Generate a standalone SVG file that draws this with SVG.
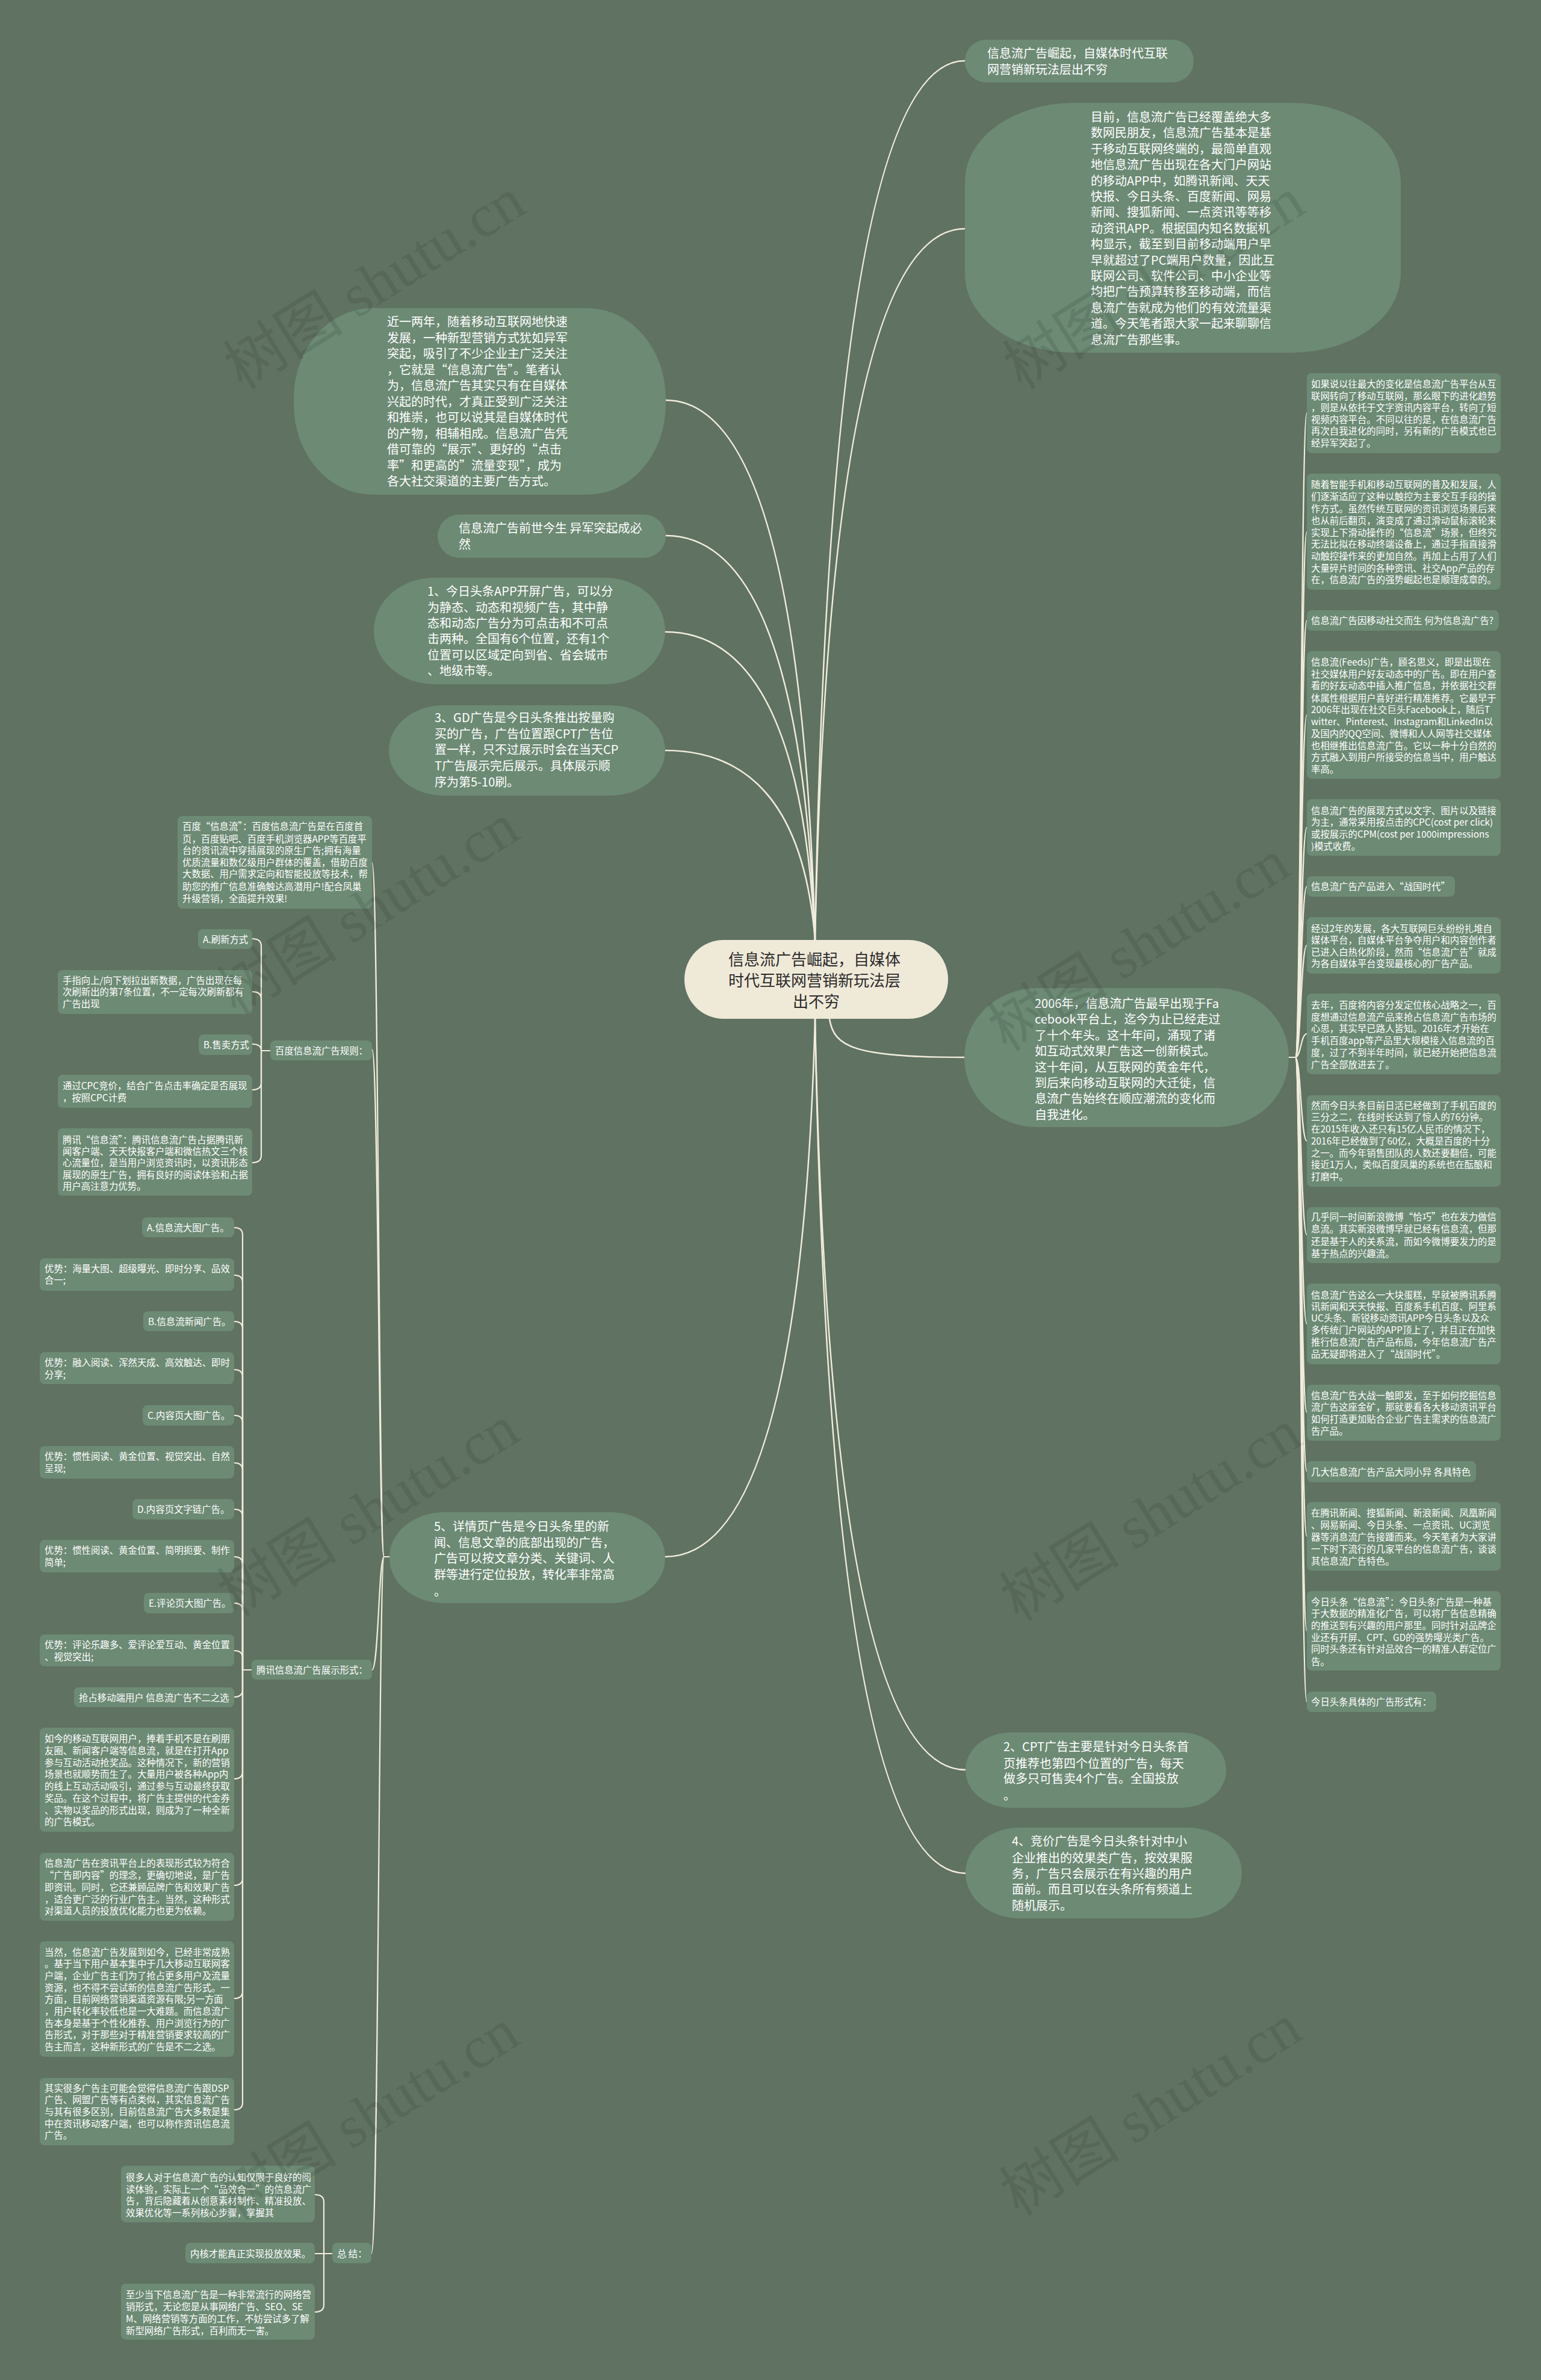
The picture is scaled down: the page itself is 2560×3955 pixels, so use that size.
<svg xmlns="http://www.w3.org/2000/svg" width="2560" height="3955" viewBox="0 0 2560 3955">
<style>
.n{fill:#6c8a74}
.t{fill:#ffffff;font-family:"Noto Sans CJK SC","Noto Sans",sans-serif}
.b{font-size:20px}
.s{font-size:15.4px}
.c{fill:none;stroke:#f1ecdc;stroke-width:2.5;stroke-linecap:round}
.cs{fill:none;stroke:#f1ecdc;stroke-width:2.2;stroke-linecap:round}
.wm{fill:#000;opacity:0.09;font-family:"Liberation Serif","Noto Sans CJK SC",serif;font-size:100px}
</style>
<rect x="0" y="0" width="2560" height="3955" fill="#607262"/>

<g id="connectors">
<!-- center to top -->
<path class="c" d="M1354 1562 Q1379 101 1603 101"/>
<path class="c" d="M1354 1562 Q1379 380 1603 380"/>
<path class="c" d="M1354 1562 Q1329 665 1106 665"/>
<path class="c" d="M1354 1562 Q1329 890 1106 890"/>
<path class="c" d="M1354 1562 Q1329 1050 1105 1050"/>
<path class="c" d="M1354 1562 Q1329 1247 1105 1247"/>
<!-- center to bottom -->
<path class="c" d="M1354 1693 Q1330 2587 1105 2587"/>
<path class="c" d="M1354 1693 Q1379 2941 1604 2941"/>
<path class="c" d="M1354 1693 Q1379 3113 1604 3113"/>
<path class="c" d="M1378 1693 C1385 1740 1420 1757 1602 1757"/>
<!-- 2006 to right column -->
<path class="cs" d="M2141 1757 H2152 C2161 1757 2161 686 2171 686"/>
<path class="cs" d="M2141 1757 H2152 C2161 1757 2161 884 2171 884"/>
<path class="cs" d="M2141 1757 H2152 C2161 1757 2161 1031 2171 1031"/>
<path class="cs" d="M2141 1757 H2152 C2161 1757 2161 1188 2171 1188"/>
<path class="cs" d="M2141 1757 H2152 C2161 1757 2161 1375 2171 1375"/>
<path class="cs" d="M2141 1757 H2152 C2161 1757 2161 1473 2171 1473"/>
<path class="cs" d="M2141 1757 H2152 C2161 1757 2161 1571 2171 1571"/>
<path class="cs" d="M2141 1757 H2152 C2161 1757 2161 1718 2171 1718"/>
<path class="cs" d="M2141 1757 H2152 C2161 1757 2161 1896 2171 1896"/>
<path class="cs" d="M2141 1757 H2152 C2161 1757 2161 2052 2171 2052"/>
<path class="cs" d="M2141 1757 H2152 C2161 1757 2161 2200 2171 2200"/>
<path class="cs" d="M2141 1757 H2152 C2161 1757 2161 2347 2171 2347"/>
<path class="cs" d="M2141 1757 H2152 C2161 1757 2161 2445 2171 2445"/>
<path class="cs" d="M2141 1757 H2152 C2161 1757 2161 2553 2171 2553"/>
<path class="cs" d="M2141 1757 H2152 C2161 1757 2161 2710 2171 2710"/>
<path class="cs" d="M2141 1757 H2152 C2161 1757 2161 2828 2171 2828"/>
<!-- node 5 to left trunk -->
<path class="cs" d="M647 2587 H638 C629 2587 629 1434 618 1434"/>
<path class="cs" d="M647 2587 H638 C629 2587 629 1744 618 1744"/>
<path class="cs" d="M647 2587 H638 C629 2587 629 2775 618 2775"/>
<path class="cs" d="M647 2587 H638 C629 2587 629 3745 617 3745"/>
<!-- baidu rules children -->
<path class="cs" d="M449 1746 H434"/>
<path class="cs" d="M419 1560 Q434 1560 434 1572 V1746"/>
<path class="cs" d="M419 1648 Q434 1648 434 1660 V1746"/>
<path class="cs" d="M419 1735 Q434 1735 434 1746"/>
<path class="cs" d="M419 1811 Q434 1811 434 1799 V1746"/>
<path class="cs" d="M419 1932 Q434 1932 434 1920 V1746"/>
<!-- tencent children -->
<path class="cs" d="M418 2775 H403"/>
<path class="cs" d="M389 2040 Q403 2040 403 2052 V2775"/>
<path class="cs" d="M389 2119 Q403 2119 403 2131 V2775"/>
<path class="cs" d="M389 2196 Q403 2196 403 2208 V2775"/>
<path class="cs" d="M389 2276 Q403 2276 403 2288 V2775"/>
<path class="cs" d="M389 2352 Q403 2352 403 2364 V2775"/>
<path class="cs" d="M389 2431 Q403 2431 403 2443 V2775"/>
<path class="cs" d="M389 2508 Q403 2508 403 2520 V2775"/>
<path class="cs" d="M389 2587 Q403 2587 403 2599 V2775"/>
<path class="cs" d="M389 2664 Q403 2664 403 2676 V2775"/>
<path class="cs" d="M389 2743 Q403 2743 403 2755 V2775"/>
<path class="cs" d="M389 2820 Q403 2820 403 2808 V2775"/>
<path class="cs" d="M389 2956 Q403 2956 403 2944 V2775"/>
<path class="cs" d="M389 3133 Q403 3133 403 3121 V2775"/>
<path class="cs" d="M389 3321 Q403 3321 403 3309 V2775"/>
<path class="cs" d="M389 3506 Q403 3506 403 3494 V2775"/>
<!-- summary children -->
<path class="cs" d="M552 3745 H538"/>
<path class="cs" d="M523 3647 Q538 3647 538 3659 V3745"/>
<path class="cs" d="M523 3745 H538"/>
<path class="cs" d="M523 3842 Q538 3842 538 3830 V3745"/>
</g>

<g id="center">
<rect x="1137" y="1562" width="438" height="131" rx="65" fill="#efe9d8"/>
<text font-family="Noto Sans CJK SC, sans-serif" font-size="26" fill="#2b2b2b" text-anchor="middle">
<tspan x="1356" y="1604">信息流广告崛起，自媒体</tspan>
<tspan x="1356" y="1639">时代互联网营销新玩法层</tspan>
<tspan x="1356" y="1674">出不穷</tspan>
</text>
</g>

<g id="nodeA">
<rect class="n" x="1603" y="66" width="380" height="71" rx="35"/>
<text class="t b"><tspan x="1640" y="96">信息流广告崛起，自媒体时代互联</tspan><tspan x="1640" y="123">网营销新玩法层出不穷</tspan></text>
</g>

<g id="nodeB">
<rect class="n" x="1603" y="171" width="724" height="415" rx="180" ry="130"/>
<text class="t b">
<tspan x="1812" y="202">目前，信息流广告已经覆盖绝大多</tspan>
<tspan x="1812" y="228">数网民朋友，信息流广告基本是基</tspan>
<tspan x="1812" y="255">于移动互联网终端的，最简单直观</tspan>
<tspan x="1812" y="281">地信息流广告出现在各大门户网站</tspan>
<tspan x="1812" y="308">的移动APP中，如腾讯新闻、天天</tspan>
<tspan x="1812" y="334">快报、今日头条、百度新闻、网易</tspan>
<tspan x="1812" y="360">新闻、搜狐新闻、一点资讯等等移</tspan>
<tspan x="1812" y="387">动资讯APP。根据国内知名数据机</tspan>
<tspan x="1812" y="413">构显示，截至到目前移动端用户早</tspan>
<tspan x="1812" y="440">早就超过了PC端用户数量，因此互</tspan>
<tspan x="1812" y="466">联网公司、软件公司、中小企业等</tspan>
<tspan x="1812" y="492">均把广告预算转移至移动端，而信</tspan>
<tspan x="1812" y="519">息流广告就成为他们的有效流量渠</tspan>
<tspan x="1812" y="545">道。今天笔者跟大家一起来聊聊信</tspan>
<tspan x="1812" y="572">息流广告那些事。</tspan>
</text>
</g>

<g id="nodeC">
<rect class="n" x="488" y="512" width="618" height="310" rx="130" ry="150"/>
<text class="t b">
<tspan x="643" y="542">近一两年，随着移动互联网地快速</tspan>
<tspan x="643" y="569">发展，一种新型营销方式犹如异军</tspan>
<tspan x="643" y="595">突起，吸引了不少企业主广泛关注</tspan>
<tspan x="643" y="622">，它就是“信息流广告”。笔者认</tspan>
<tspan x="643" y="648">为，信息流广告其实只有在自媒体</tspan>
<tspan x="643" y="675">兴起的时代，才真正受到广泛关注</tspan>
<tspan x="643" y="701">和推崇，也可以说其是自媒体时代</tspan>
<tspan x="643" y="728">的产物，相辅相成。信息流广告凭</tspan>
<tspan x="643" y="754">借可靠的“展示”、更好的“点击</tspan>
<tspan x="643" y="781">率”和更高的”流量变现”，成为</tspan>
<tspan x="643" y="807">各大社交渠道的主要广告方式。</tspan>
</text>
</g>

<g id="nodeD">
<rect class="n" x="727" y="855" width="379" height="72" rx="36"/>
<text class="t b"><tspan x="762" y="885">信息流广告前世今生 异军突起成必</tspan><tspan x="762" y="912">然</tspan></text>
</g>

<g id="nodeE">
<rect class="n" x="621" y="960" width="484" height="177" rx="100" ry="88"/>
<text class="t b">
<tspan x="710" y="990">1、今日头条APP开屏广告，可以分</tspan>
<tspan x="710" y="1017">为静态、动态和视频广告，其中静</tspan>
<tspan x="710" y="1043">态和动态广告分为可点击和不可点</tspan>
<tspan x="710" y="1069">击两种。全国有6个位置，还有1个</tspan>
<tspan x="710" y="1096">位置可以区域定向到省、省会城市</tspan>
<tspan x="710" y="1122">、地级市等。</tspan>
</text>
</g>

<g id="nodeF">
<rect class="n" x="646" y="1172" width="459" height="150" rx="90" ry="75"/>
<text class="t b">
<tspan x="722" y="1200">3、GD广告是今日头条推出按量购</tspan>
<tspan x="722" y="1227">买的广告，广告位置跟CPT广告位</tspan>
<tspan x="722" y="1253">置一样，只不过展示时会在当天CP</tspan>
<tspan x="722" y="1280">T广告展示完后展示。具体展示顺</tspan>
<tspan x="722" y="1307">序为第5-10刷。</tspan>
</text>
</g>

<g id="nodeG">
<rect class="n" x="647" y="2513" width="458" height="151" rx="90" ry="75"/>
<text class="t b">
<tspan x="721" y="2544">5、详情页广告是今日头条里的新</tspan>
<tspan x="721" y="2571">闻、信息文章的底部出现的广告，</tspan>
<tspan x="721" y="2597">广告可以按文章分类、关键词、人</tspan>
<tspan x="721" y="2624">群等进行定位投放，转化率非常高</tspan>
<tspan x="721" y="2652">。</tspan>
</text>
</g>

<g id="node2006">
<rect class="n" x="1602" y="1642" width="539" height="231" rx="120" ry="115"/>
<text class="t b">
<tspan x="1719" y="1675">2006年，信息流广告最早出现于Fa</tspan>
<tspan x="1719" y="1701">cebook平台上，迄今为止已经走过</tspan>
<tspan x="1719" y="1728">了十个年头。这十年间，涌现了诸</tspan>
<tspan x="1719" y="1754">如互动式效果广告这一创新模式。</tspan>
<tspan x="1719" y="1781">这十年间，从互联网的黄金年代，</tspan>
<tspan x="1719" y="1807">到后来向移动互联网的大迁徙，信</tspan>
<tspan x="1719" y="1833">息流广告始终在顺应潮流的变化而</tspan>
<tspan x="1719" y="1860">自我进化。</tspan>
</text>
</g>

<g id="nodeN2">
<rect class="n" x="1604" y="2879" width="433" height="125" rx="75" ry="62"/>
<text class="t b">
<tspan x="1667" y="2910">2、CPT广告主要是针对今日头条首</tspan>
<tspan x="1667" y="2938">页推荐也第四个位置的广告，每天</tspan>
<tspan x="1667" y="2963">做多只可售卖4个广告。全国投放</tspan>
<tspan x="1667" y="2991">。</tspan>
</text>
</g>

<g id="nodeN4">
<rect class="n" x="1604" y="3037" width="459" height="151" rx="90" ry="75"/>
<text class="t b">
<tspan x="1681" y="3067">4、竞价广告是今日头条针对中小</tspan>
<tspan x="1681" y="3095">企业推出的效果类广告，按效果服</tspan>
<tspan x="1681" y="3121">务，广告只会展示在有兴趣的用户</tspan>
<tspan x="1681" y="3147">面前。而且可以在头条所有频道上</tspan>
<tspan x="1681" y="3174">随机展示。</tspan>
</text>
</g>

<!-- right column -->
<g id="R1">
<rect class="n" x="2171" y="620" width="322" height="133" rx="8"/>
<text class="t s">
<tspan x="2178" y="644">如果说以往最大的变化是信息流广告平台从互</tspan>
<tspan x="2178" y="664">联网转向了移动互联网，那么眼下的进化趋势</tspan>
<tspan x="2178" y="683">，则是从依托于文字资讯内容平台，转向了短</tspan>
<tspan x="2178" y="703">视频内容平台。不同以往的是，在信息流广告</tspan>
<tspan x="2178" y="722">再次自我进化的同时，另有新的广告模式也已</tspan>
<tspan x="2178" y="742">经异军突起了。</tspan>
</text>
</g>
<g id="R2">
<rect class="n" x="2171" y="787" width="322" height="193" rx="8"/>
<text class="t s">
<tspan x="2178" y="810.5">随着智能手机和移动互联网的普及和发展，人</tspan>
<tspan x="2178" y="830.5">们逐渐适应了这种以触控为主要交互手段的操</tspan>
<tspan x="2178" y="850.5">作方式。虽然传统互联网的资讯浏览场景后来</tspan>
<tspan x="2178" y="870.5">也从前后翻页，演变成了通过滑动鼠标滚轮来</tspan>
<tspan x="2178" y="890.5">实现上下滑动操作的“信息流”场景，但终究</tspan>
<tspan x="2178" y="909.5">无法比拟在移动终端设备上，通过手指直接滑</tspan>
<tspan x="2178" y="929.5">动触控操作来的更加自然。再加上占用了人们</tspan>
<tspan x="2178" y="949.5">大量碎片时间的各种资讯、社交App产品的存</tspan>
<tspan x="2178" y="968.5">在，信息流广告的强势崛起也是顺理成章的。</tspan>
</text>
</g>
<g id="R3">
<rect class="n" x="2171" y="1014" width="319" height="34" rx="8"/>
<text class="t s"><tspan x="2178" y="1037">信息流广告因移动社交而生 何为信息流广告?</tspan></text>
</g>
<g id="R4">
<rect class="n" x="2171" y="1082" width="322" height="212" rx="8"/>
<text class="t s">
<tspan x="2178" y="1105.5">信息流(Feeds)广告，顾名思义，即是出现在</tspan>
<tspan x="2178" y="1125.5">社交媒体用户好友动态中的广告。即在用户查</tspan>
<tspan x="2178" y="1144.5">看的好友动态中插入推广信息，并依据社交群</tspan>
<tspan x="2178" y="1165.5">体属性根据用户喜好进行精准推荐。它最早于</tspan>
<tspan x="2178" y="1184.5">2006年出现在社交巨头Facebook上，随后T</tspan>
<tspan x="2178" y="1204.5">witter、Pinterest、Instagram和LinkedIn以</tspan>
<tspan x="2178" y="1224.5">及国内的QQ空间、微博和人人网等社交媒体</tspan>
<tspan x="2178" y="1244.5">也相继推出信息流广告。它以一种十分自然的</tspan>
<tspan x="2178" y="1263.5">方式融入到用户所接受的信息当中，用户触达</tspan>
<tspan x="2178" y="1283.5">率高。</tspan>
</text>
</g>
<g id="R5">
<rect class="n" x="2171" y="1328" width="322" height="94" rx="8"/>
<text class="t s">
<tspan x="2178" y="1352.5">信息流广告的展现方式以文字、图片以及链接</tspan>
<tspan x="2178" y="1371.5">为主，通常采用按点击的CPC(cost per click)</tspan>
<tspan x="2178" y="1391.5">或按展示的CPM(cost per 1000impressions</tspan>
<tspan x="2178" y="1411.5">)模式收费。</tspan>
</text>
</g>
<g id="R6">
<rect class="n" x="2171" y="1456" width="246" height="34" rx="8"/>
<text class="t s"><tspan x="2178" y="1478.5">信息流广告产品进入“战国时代”</tspan></text>
</g>
<g id="R7">
<rect class="n" x="2171" y="1524" width="322" height="94" rx="8"/>
<text class="t s">
<tspan x="2178" y="1548.5">经过2年的发展，各大互联网巨头纷纷扎堆自</tspan>
<tspan x="2178" y="1567.5">媒体平台，自媒体平台争夺用户和内容创作者</tspan>
<tspan x="2178" y="1587.5">已进入白热化阶段，然而“信息流广告”就成</tspan>
<tspan x="2178" y="1606.5">为各自媒体平台变现最核心的广告产品。</tspan>
</text>
</g>
<g id="R8">
<rect class="n" x="2171" y="1651" width="322" height="134" rx="8"/>
<text class="t s">
<tspan x="2178" y="1675.5">去年，百度将内容分发定位核心战略之一，百</tspan>
<tspan x="2178" y="1695.5">度想通过信息流产品来抢占信息流广告市场的</tspan>
<tspan x="2178" y="1714.5">心思，其实早已路人皆知。2016年才开始在</tspan>
<tspan x="2178" y="1734.5">手机百度app等产品里大规模接入信息流的百</tspan>
<tspan x="2178" y="1754.5">度，过了不到半年时间，就已经开始把信息流</tspan>
<tspan x="2178" y="1774.5">广告全部放进去了。</tspan>
</text>
</g>
<g id="R9">
<rect class="n" x="2171" y="1820" width="322" height="152" rx="8"/>
<text class="t s">
<tspan x="2178" y="1842.5">然而今日头条目前日活已经做到了手机百度的</tspan>
<tspan x="2178" y="1861.5">三分之二，在线时长达到了惊人的76分钟。</tspan>
<tspan x="2178" y="1881.5">在2015年收入还只有15亿人民币的情况下，</tspan>
<tspan x="2178" y="1901.5">2016年已经做到了60亿，大概是百度的十分</tspan>
<tspan x="2178" y="1921.5">之一。而今年销售团队的人数还要翻倍，可能</tspan>
<tspan x="2178" y="1940.5">接近1万人，类似百度凤巢的系统也在酝酿和</tspan>
<tspan x="2178" y="1960.5">打磨中。</tspan>
</text>
</g>
<g id="R10">
<rect class="n" x="2171" y="2006" width="322" height="93" rx="8"/>
<text class="t s">
<tspan x="2178" y="2027.5">几乎同一时间新浪微博“恰巧”也在发力做信</tspan>
<tspan x="2178" y="2047.5">息流。其实新浪微博早就已经有信息流，但那</tspan>
<tspan x="2178" y="2068.5">还是基于人的关系流，而如今微博要发力的是</tspan>
<tspan x="2178" y="2088.5">基于热点的兴趣流。</tspan>
</text>
</g>
<g id="R11">
<rect class="n" x="2171" y="2133" width="322" height="134" rx="8"/>
<text class="t s">
<tspan x="2178" y="2157.5">信息流广告这么一大块蛋糕，早就被腾讯系腾</tspan>
<tspan x="2178" y="2176.5">讯新闻和天天快报、百度系手机百度、阿里系</tspan>
<tspan x="2178" y="2195.5">UC头条、新锐移动资讯APP今日头条以及众</tspan>
<tspan x="2178" y="2215.5">多传统门户网站的APP顶上了，并且正在加快</tspan>
<tspan x="2178" y="2235.5">推行信息流广告产品布局，今年信息流广告产</tspan>
<tspan x="2178" y="2255.5">品无疑即将进入了“战国时代”。</tspan>
</text>
</g>
<g id="R12">
<rect class="n" x="2171" y="2301" width="322" height="93" rx="8"/>
<text class="t s">
<tspan x="2178" y="2324.5">信息流广告大战一触即发，至于如何挖掘信息</tspan>
<tspan x="2178" y="2343.5">流广告这座金矿，那就要看各大移动资讯平台</tspan>
<tspan x="2178" y="2363.5">如何打造更加贴合企业广告主需求的信息流广</tspan>
<tspan x="2178" y="2383.5">告产品。</tspan>
</text>
</g>
<g id="R13">
<rect class="n" x="2171" y="2428" width="281" height="35" rx="8"/>
<text class="t s"><tspan x="2178" y="2451.5">几大信息流广告产品大同小异 各具特色</tspan></text>
</g>
<g id="R14">
<rect class="n" x="2171" y="2496" width="322" height="114" rx="8"/>
<text class="t s">
<tspan x="2178" y="2519.5">在腾讯新闻、搜狐新闻、新浪新闻、凤凰新闻</tspan>
<tspan x="2178" y="2539.5">、网易新闻、今日头条、一点资讯、UC浏览</tspan>
<tspan x="2178" y="2559.5">器等消息流广告接踵而来。今天笔者为大家讲</tspan>
<tspan x="2178" y="2579.5">一下时下流行的几家平台的信息流广告，谈谈</tspan>
<tspan x="2178" y="2599.5">其信息流广告特色。</tspan>
</text>
</g>
<g id="R15">
<rect class="n" x="2171" y="2644" width="322" height="132" rx="8"/>
<text class="t s">
<tspan x="2178" y="2667.5">今日头条“信息流”：今日头条广告是一种基</tspan>
<tspan x="2178" y="2686.5">于大数据的精准化广告，可以将广告信息精确</tspan>
<tspan x="2178" y="2706.5">的推送到有兴趣的用户那里。同时针对品牌企</tspan>
<tspan x="2178" y="2726.5">业还有开屏、CPT、GD的强势曝光类广告。</tspan>
<tspan x="2178" y="2745.5">同时头条还有针对品效合一的精准人群定位广</tspan>
<tspan x="2178" y="2766.5">告。</tspan>
</text>
</g>
<g id="R16">
<rect class="n" x="2171" y="2811" width="215" height="34" rx="8"/>
<text class="t s"><tspan x="2178" y="2833.5">今日头条具体的广告形式有：</tspan></text>
</g>

<!-- left subtree -->
<g id="L1">
<rect class="n" x="295" y="1356" width="323" height="154" rx="8"/>
<text class="t s">
<tspan x="303" y="1378.5">百度“信息流”：百度信息流广告是在百度首</tspan>
<tspan x="303" y="1399.5">页，百度贴吧、百度手机浏览器APP等百度平</tspan>
<tspan x="303" y="1418.5">台的资讯流中穿插展现的原生广告;拥有海量</tspan>
<tspan x="303" y="1438.5">优质流量和数亿级用户群体的覆盖，借助百度</tspan>
<tspan x="303" y="1457.5">大数据、用户需求定向和智能投放等技术，帮</tspan>
<tspan x="303" y="1478.5">助您的推广信息准确触达高潜用户!配合凤巢</tspan>
<tspan x="303" y="1498.5">升级营销，全面提升效果!</tspan>
</text>
</g>
<g id="L2">
<rect class="n" x="449" y="1729" width="169" height="33" rx="8"/>
<text class="t s"><tspan x="457" y="1751.5">百度信息流广告规则：</tspan></text>
</g>
<g id="L2a">
<rect class="n" x="329" y="1544" width="90" height="33" rx="8"/>
<text class="t s"><tspan x="337" y="1566.5">A.刷新方式</tspan></text>
</g>
<g id="L2b">
<rect class="n" x="96" y="1612" width="323" height="73" rx="8"/>
<text class="t s">
<tspan x="104" y="1634.5">手指向上/向下划拉出新数据，广告出现在每</tspan>
<tspan x="104" y="1654">次刷新出的第7条位置，不一定每次刷新都有</tspan>
<tspan x="104" y="1673.5">广告出现</tspan>
</text>
</g>
<g id="L2c">
<rect class="n" x="330" y="1719" width="89" height="34" rx="8"/>
<text class="t s"><tspan x="338" y="1741.5">B.售卖方式</tspan></text>
</g>
<g id="L2d">
<rect class="n" x="96" y="1786" width="323" height="55" rx="8"/>
<text class="t s">
<tspan x="104" y="1809.5">通过CPC竞价，结合广告点击率确定是否展现</tspan>
<tspan x="104" y="1829.5">，按照CPC计费</tspan>
</text>
</g>
<g id="L2e">
<rect class="n" x="96" y="1875" width="323" height="112" rx="8"/>
<text class="t s">
<tspan x="104" y="1899.5">腾讯“信息流”：腾讯信息流广告占据腾讯新</tspan>
<tspan x="104" y="1918.5">闻客户端、天天快报客户端和微信热文三个核</tspan>
<tspan x="104" y="1937.5">心流量位，是当用户浏览资讯时，以资讯形态</tspan>
<tspan x="104" y="1957.5">展现的原生广告，拥有良好的阅读体验和占据</tspan>
<tspan x="104" y="1976.5">用户高注意力优势。</tspan>
</text>
</g>
<g id="L3">
<rect class="n" x="418" y="2758" width="200" height="33" rx="8"/>
<text class="t s"><tspan x="426" y="2780.5">腾讯信息流广告展示形式：</tspan></text>
</g>
<g id="L3a">
<rect class="n" x="236" y="2023" width="153" height="33" rx="8"/>
<text class="t s"><tspan x="244" y="2045.5">A.信息流大图广告。</tspan></text>
</g>
<g id="L3b">
<rect class="n" x="66" y="2091" width="323" height="54" rx="8"/>
<text class="t s"><tspan x="74" y="2113.5">优势：海量大图、超级曝光、即时分享、品效</tspan><tspan x="74" y="2132.5">合一;</tspan></text>
</g>
<g id="L3c">
<rect class="n" x="238" y="2179" width="151" height="33" rx="8"/>
<text class="t s"><tspan x="246" y="2201.5">B.信息流新闻广告。</tspan></text>
</g>
<g id="L3d">
<rect class="n" x="66" y="2247" width="323" height="53" rx="8"/>
<text class="t s"><tspan x="74" y="2269.5">优势：融入阅读、浑然天成、高效触达、即时</tspan><tspan x="74" y="2289.5">分享;</tspan></text>
</g>
<g id="L3e">
<rect class="n" x="237" y="2335" width="152" height="34" rx="8"/>
<text class="t s"><tspan x="245" y="2357.5">C.内容页大图广告。</tspan></text>
</g>
<g id="L3f">
<rect class="n" x="66" y="2403" width="323" height="54" rx="8"/>
<text class="t s"><tspan x="74" y="2425.5">优势：惯性阅读、黄金位置、视觉突出、自然</tspan><tspan x="74" y="2445.5">呈现;</tspan></text>
</g>
<g id="L3g">
<rect class="n" x="220" y="2491" width="169" height="34" rx="8"/>
<text class="t s"><tspan x="228" y="2513.5">D.内容页文字链广告。</tspan></text>
</g>
<g id="L3h">
<rect class="n" x="66" y="2559" width="323" height="54" rx="8"/>
<text class="t s"><tspan x="74" y="2581.5">优势：惯性阅读、黄金位置、简明扼要、制作</tspan><tspan x="74" y="2601.5">简单;</tspan></text>
</g>
<g id="L3i">
<rect class="n" x="239" y="2647" width="150" height="34" rx="8"/>
<text class="t s"><tspan x="247" y="2669.5">E.评论页大图广告。</tspan></text>
</g>
<g id="L3j">
<rect class="n" x="66" y="2716" width="323" height="53" rx="8"/>
<text class="t s"><tspan x="74" y="2738.5">优势：评论乐趣多、爱评论爱互动、黄金位置</tspan><tspan x="74" y="2758.5">、视觉突出;</tspan></text>
</g>
<g id="L3k">
<rect class="n" x="123" y="2804" width="266" height="33" rx="8"/>
<text class="t s"><tspan x="131" y="2826.5">抢占移动端用户 信息流广告不二之选</tspan></text>
</g>
<g id="L3l">
<rect class="n" x="66" y="2871" width="323" height="173" rx="8"/>
<text class="t s">
<tspan x="74" y="2894.5">如今的移动互联网用户，捧着手机不是在刷朋</tspan>
<tspan x="74" y="2914.5">友圈、新闻客户端等信息流，就是在打开App</tspan>
<tspan x="74" y="2934.5">参与互动活动抢奖品。这种情况下，新的营销</tspan>
<tspan x="74" y="2953.5">场景也就顺势而生了。大量用户被各种App内</tspan>
<tspan x="74" y="2973.5">的线上互动活动吸引，通过参与互动最终获取</tspan>
<tspan x="74" y="2993.5">奖品。在这个过程中，将广告主提供的代金券</tspan>
<tspan x="74" y="3013.5">、实物以奖品的形式出现，则成为了一种全新</tspan>
<tspan x="74" y="3032.5">的广告模式。</tspan>
</text>
</g>
<g id="L3m">
<rect class="n" x="66" y="3079" width="323" height="113" rx="8"/>
<text class="t s">
<tspan x="74" y="3101.5">信息流广告在资讯平台上的表现形式较为符合</tspan>
<tspan x="74" y="3121.5">“广告即内容”的理念，更确切地说，是广告</tspan>
<tspan x="74" y="3141.5">即资讯。同时，它还兼顾品牌广告和效果广告</tspan>
<tspan x="74" y="3161.5">，适合更广泛的行业广告主。当然，这种形式</tspan>
<tspan x="74" y="3180.5">对渠道人员的投放优化能力也更为依赖。</tspan>
</text>
</g>
<g id="L3n">
<rect class="n" x="66" y="3226" width="323" height="192" rx="8"/>
<text class="t s">
<tspan x="74" y="3249.5">当然，信息流广告发展到如今，已经非常成熟</tspan>
<tspan x="74" y="3268.5">。基于当下用户基本集中于几大移动互联网客</tspan>
<tspan x="74" y="3288.5">户端，企业广告主们为了抢占更多用户及流量</tspan>
<tspan x="74" y="3308.5">资源，也不得不尝试新的信息流广告形式。一</tspan>
<tspan x="74" y="3327.5">方面，目前网络营销渠道资源有限;另一方面</tspan>
<tspan x="74" y="3347.5">，用户转化率较低也是一大难题。而信息流广</tspan>
<tspan x="74" y="3367.5">告本身是基于个性化推荐、用户浏览行为的广</tspan>
<tspan x="74" y="3386.5">告形式，对于那些对于精准营销要求较高的广</tspan>
<tspan x="74" y="3406.5">告主而言，这种新形式的广告是不二之选。</tspan>
</text>
</g>
<g id="L3o">
<rect class="n" x="66" y="3453" width="323" height="112" rx="8"/>
<text class="t s">
<tspan x="74" y="3475.5">其实很多广告主可能会觉得信息流广告跟DSP</tspan>
<tspan x="74" y="3494.5">广告、网盟广告等有点类似，其实信息流广告</tspan>
<tspan x="74" y="3514.5">与其有很多区别，目前信息流广告大多数是集</tspan>
<tspan x="74" y="3534.5">中在资讯移动客户端，也可以称作资讯信息流</tspan>
<tspan x="74" y="3553.5">广告。</tspan>
</text>
</g>
<g id="L4">
<rect class="n" x="552" y="3727" width="65" height="34" rx="8"/>
<text class="t s"><tspan x="560" y="3750.5">总 结：</tspan></text>
</g>
<g id="L4a">
<rect class="n" x="201" y="3599" width="322" height="94" rx="8"/>
<text class="t s">
<tspan x="209" y="3623.5">很多人对于信息流广告的认知仅限于良好的阅</tspan>
<tspan x="209" y="3643.5">读体验，实际上一个“品效合一”的信息流广</tspan>
<tspan x="209" y="3662.5">告，背后隐藏着从创意素材制作、精准投放、</tspan>
<tspan x="209" y="3682.5">效果优化等一系列核心步骤，掌握其</tspan>
</text>
</g>
<g id="L4b">
<rect class="n" x="308" y="3727" width="215" height="34" rx="8"/>
<text class="t s"><tspan x="316" y="3750.5">内核才能真正实现投放效果。</tspan></text>
</g>
<g id="L4c">
<rect class="n" x="201" y="3795" width="322" height="93" rx="8"/>
<text class="t s">
<tspan x="209" y="3818.5">至少当下信息流广告是一种非常流行的网络营</tspan>
<tspan x="209" y="3838.5">销形式，无论您是从事网络广告、SEO、SE</tspan>
<tspan x="209" y="3858.5">M、网络营销等方面的工作，不妨尝试多了解</tspan>
<tspan x="209" y="3878.5">新型网络广告形式，百利而无一害。</tspan>
</text>
</g>

<g id="watermark">
<text class="wm" text-anchor="middle" transform="translate(640 500) rotate(-32)">树图 shutu.cn</text>
<text class="wm" text-anchor="middle" transform="translate(1935 500) rotate(-32)">树图 shutu.cn</text>
<text class="wm" text-anchor="middle" transform="translate(630 1540) rotate(-32)">树图 shutu.cn</text>
<text class="wm" text-anchor="middle" transform="translate(1910 1600) rotate(-32)">树图 shutu.cn</text>
<text class="wm" text-anchor="middle" transform="translate(630 2540) rotate(-32)">树图 shutu.cn</text>
<text class="wm" text-anchor="middle" transform="translate(1930 2547) rotate(-32)">树图 shutu.cn</text>
<text class="wm" text-anchor="middle" transform="translate(630 3543) rotate(-32)">树图 shutu.cn</text>
<text class="wm" text-anchor="middle" transform="translate(1930 3535) rotate(-32)">树图 shutu.cn</text>
</g>
</svg>
